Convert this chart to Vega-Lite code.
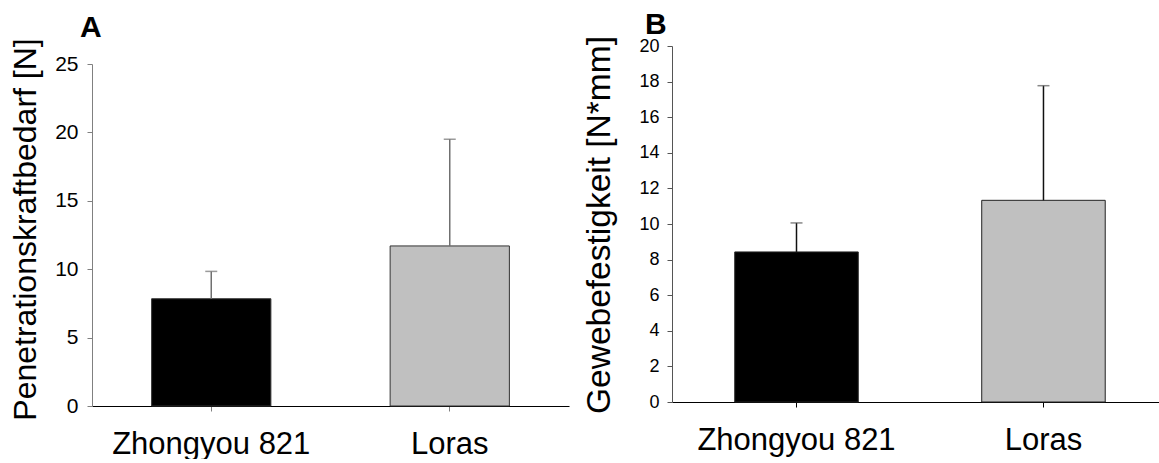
{
  "$schema": "https://vega.github.io/schema/vega-lite/v6.json",
  "padding": {"left": 8, "top": 9, "right": 0, "bottom": 0},
  "background": "white",
  "config": {
    "font": "Liberation Sans",
    "view": {"stroke": null},
    "concat": {"spacing": 12},
    "axis": {"labelOverlap": false},
    "axisY": {"labelOverlap": false},
    "axisQuantitative": {"labelOverlap": false}
  },
  "datasets": {
    "a": [
      {"sorte": "Zhongyou 821", "mean": 7.84, "upper": 9.84},
      {"sorte": "Loras", "mean": 11.7, "upper": 19.5}
    ],
    "b": [
      {"sorte": "Zhongyou 821", "mean": 8.43, "upper": 10.06},
      {"sorte": "Loras", "mean": 11.33, "upper": 17.77}
    ]
  },
  "hconcat": [
    {
      "width": 477,
      "height": 360,
      "title": {"text": "A", "anchor": "start", "frame": "group", "fontSize": 30, "fontWeight": "bold", "font": "Liberation Sans", "color": "black", "dx": -12, "offset": -5},
      "data": {"name": "a"},
      "encoding": {
        "x": {
          "field": "sorte", "type": "nominal", "sort": ["Zhongyou 821", "Loras"],
          "scale": {"paddingInner": 0.5, "paddingOuter": 0.25},
          "axis": {"title": null, "labelAngle": 0, "labelFontSize": 31, "labelLimit": 0, "labelColor": "black", "domainColor": "black", "domainWidth": 1.2, "tickColor": "#808080", "tickSize": 5, "labelPadding": 18}
        }
      },
      "layer": [
        {
          "mark": {"type": "bar", "stroke": "#333333", "strokeWidth": 1},
          "encoding": {
            "y": {
              "field": "mean", "type": "quantitative",
              "scale": {"domain": [0, 25], "nice": false, "range": [360, 18]},
              "axis": {"title": "Penetrationskraftbedarf [N]", "titleFontSize": 32, "titleFontWeight": "normal", "titleColor": "black", "titleLimit": 0, "titleX": -50, "titleY": 183, "values": [0, 5, 10, 15, 20, 25], "labelOverlap": false, "grid": false, "labelFontSize": 21, "labelColor": "black", "domainColor": "#808080", "tickColor": "#808080", "tickSize": 5, "labelPadding": 9}
            },
            "color": {"field": "sorte", "type": "nominal", "scale": {"domain": ["Zhongyou 821", "Loras"], "range": ["#000000", "#c0c0c0"]}, "legend": null}
          }
        },
        {
          "mark": {"type": "rule", "color": "#707070", "strokeWidth": 1.5},
          "encoding": {"y": {"field": "mean", "type": "quantitative"}, "y2": {"field": "upper"}}
        },
        {
          "mark": {"type": "tick", "color": "#707070", "thickness": 1.5, "size": 12, "orient": "horizontal"},
          "encoding": {"y": {"field": "upper", "type": "quantitative"}}
        }
      ]
    },
    {
      "width": 490,
      "height": 356,
      "title": {"text": "B", "anchor": "start", "frame": "group", "fontSize": 30, "fontWeight": "bold", "font": "Liberation Sans", "color": "black", "dx": -27, "offset": -4},
      "data": {"name": "b"},
      "encoding": {
        "x": {
          "field": "sorte", "type": "nominal", "sort": ["Zhongyou 821", "Loras"],
          "scale": {"paddingInner": 0.5, "paddingOuter": 0.242, "align": 0.525},
          "axis": {"title": null, "labelAngle": 0, "labelFontSize": 31, "labelLimit": 0, "labelColor": "black", "domainColor": "black", "domainWidth": 1.2, "tickColor": "black", "tickSize": 5, "labelPadding": 18}
        }
      },
      "layer": [
        {
          "mark": {"type": "bar", "stroke": "#222222", "strokeWidth": 1},
          "encoding": {
            "y": {
              "field": "mean", "type": "quantitative",
              "scale": {"domain": [0, 20], "nice": false},
              "axis": {"title": "Gewebefestigkeit [N*mm]", "titleFontSize": 33.5, "titleFontWeight": "normal", "titleColor": "black", "titleLimit": 0, "titleX": -56, "titleY": 178.5, "values": [0, 2, 4, 6, 8, 10, 12, 14, 16, 18, 20], "tickCount": 11, "labelOverlap": false, "grid": false, "labelFontSize": 18, "labelColor": "black", "domainColor": "#555555", "tickColor": "#555555", "tickSize": 5, "labelPadding": 8}
            },
            "color": {"field": "sorte", "type": "nominal", "scale": {"domain": ["Zhongyou 821", "Loras"], "range": ["#000000", "#c0c0c0"]}, "legend": null}
          }
        },
        {
          "mark": {"type": "rule", "color": "#111111", "strokeWidth": 1.5},
          "encoding": {"y": {"field": "mean", "type": "quantitative", "axis": {"values": [0, 2, 4, 6, 8, 10, 12, 14, 16, 18, 20], "labelOverlap": false}}, "y2": {"field": "upper"}}
        },
        {
          "mark": {"type": "tick", "color": "#555555", "thickness": 1.5, "size": 12, "orient": "horizontal"},
          "encoding": {"y": {"field": "upper", "type": "quantitative", "axis": {"values": [0, 2, 4, 6, 8, 10, 12, 14, 16, 18, 20], "labelOverlap": false}}}
        }
      ]
    }
  ],
  "resolve": {"scale": {"color": "independent"}}
}
